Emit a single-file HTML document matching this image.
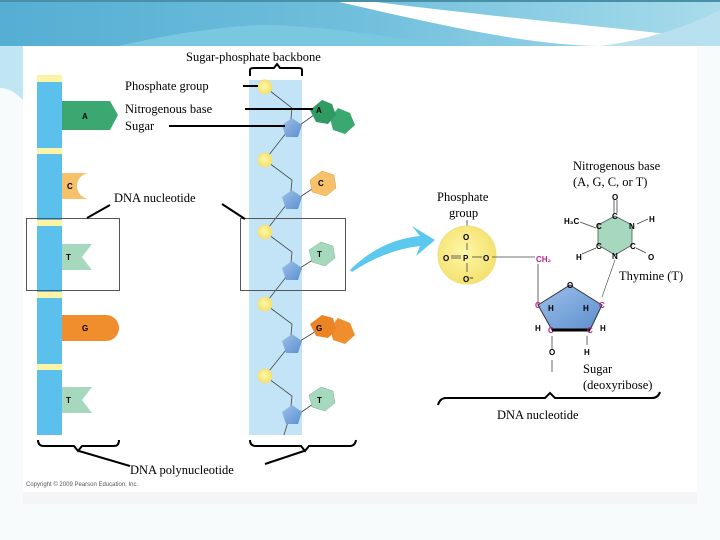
<!DOCTYPE html>
<html><head><meta charset="utf-8"><style>
html,body{margin:0;padding:0;width:720px;height:540px;overflow:hidden;background:#fff}
svg{display:block}
text{font-family:"Liberation Serif",serif;font-size:12.5px;fill:#000}
.s{font-family:"Liberation Sans",sans-serif;font-size:8px;font-weight:bold}
</style></head><body>
<svg width="720" height="540" viewBox="0 0 720 540" xmlns="http://www.w3.org/2000/svg">
<defs>
<linearGradient id="bg" x1="0" y1="0" x2="1" y2="0">
<stop offset="0" stop-color="#55aed3"/><stop offset="0.5" stop-color="#70bfdc"/><stop offset="1" stop-color="#a8dceb"/>
</linearGradient>
<radialGradient id="ph" cx="0.45" cy="0.45" r="0.6"><stop offset="0" stop-color="#fff7a8"/><stop offset="1" stop-color="#f3e06a"/></radialGradient>
<linearGradient id="sg" x1="0" y1="0" x2="1" y2="1"><stop offset="0" stop-color="#9fc0ea"/><stop offset="1" stop-color="#5b8fcf"/></linearGradient>
</defs>
<rect width="720" height="540" fill="#f8fbfc"/>
<rect x="0" y="0" width="720" height="46" fill="url(#bg)"/>
<path d="M0 80 C60 60 160 30 260 25 C330 25 400 40 460 46 L0 46 Z" fill="#7ac8e0"/>
<path d="M330 0 C420 20 520 45 600 46 L720 46 L720 40 C640 30 520 20 360 0 Z" fill="#ffffff"/>
<path d="M0 46 H23 V100 C15 92 8 88 0 88 Z" fill="#bfe6f2"/>
<path d="M600 46 C650 40 690 25 720 10 V46 Z" fill="#b8e0ee"/>
<rect x="0" y="0" width="720" height="2" fill="#4a8fa8"/>
<rect x="23" y="46" width="674" height="446" fill="#fff"/>

<rect x="37" y="75" width="25" height="360" fill="#5bc0ec"/>
<g fill="#fbf3a6">
<rect x="37" y="75" width="25" height="7"/><rect x="37" y="148" width="25" height="6"/>
<rect x="37" y="220" width="25" height="6"/><rect x="37" y="292" width="25" height="6"/>
<rect x="37" y="364" width="25" height="6"/>
</g>
<polygon points="62,101 110,101 118,115 110,130 62,130" fill="#3aa870"/>
<path d="M62 173 H90 A13 13 0 0 0 90 199 H62 Z" fill="#f7c16c"/>
<polygon points="62,244 92,244 82,257 92,270 62,270" fill="#a6d8bd"/>
<path d="M62 315 H106 A13 13 0 0 1 106 341 H62 Z" fill="#f08d2c"/>
<polygon points="62,387 92,387 82,400 92,413 62,413" fill="#a6d8bd"/>
<text class="s" x="82" y="119">A</text><text class="s" x="67" y="189">C</text>
<text class="s" x="66" y="260">T</text><text class="s" x="82" y="331">G</text>
<text class="s" x="66" y="403">T</text>

<rect x="249" y="80" width="53" height="355" fill="#c2e4f6"/>
<g stroke="#444" stroke-width="0.8" fill="none">
<polyline points="265,87 292,108 290,128 265,160 292,180 290,200 265,232 292,252 290,272 265,304 292,324 290,345 265,376 292,396 290,415 284,435"/>
<line x1="300" y1="125" x2="318" y2="112"/><line x1="300" y1="197" x2="318" y2="185"/>
<line x1="300" y1="268" x2="316" y2="258"/><line x1="300" y1="341" x2="318" y2="330"/>
<line x1="300" y1="413" x2="316" y2="402"/>
</g>
<g fill="url(#ph)" stroke="#f0e080">
<circle cx="265" cy="87" r="7"/><circle cx="265" cy="160" r="7"/><circle cx="265" cy="232" r="7"/>
<circle cx="265" cy="304" r="7"/><circle cx="265" cy="376" r="7"/>
</g>
<g fill="url(#sg)">
<polygon points="292,118 302,125 298,137 286,137 282,125"/>
<polygon points="292,190 302,197 298,209 286,209 282,197"/>
<polygon points="292,261 302,268 298,280 286,280 282,268"/>
<polygon points="292,334 302,341 298,353 286,353 282,341"/>
<polygon points="292,405 302,412 298,424 286,424 282,412"/>
</g>
<polygon points="338,108 350,113 355,125 345,134 333,130 330,118" fill="#3aa870"/>
<polygon points="322,100 332,104 336,115 328,124 316,122 310,110" fill="#2f9a62"/>
<polygon points="322,171 334,175 336,188 326,196 312,192 310,180" fill="#f7c16c" stroke="#e0a040" stroke-width="0.5"/>
<polygon points="321,242 333,246 335,258 325,266 312,262 309,250" fill="#a6d8bd" stroke="#80b898" stroke-width="0.5"/>
<polygon points="338,318 350,323 355,335 345,344 333,340 330,328" fill="#f08d2c"/>
<polygon points="322,315 333,318 336,330 328,338 316,336 310,324" fill="#ec8424"/>
<polygon points="321,387 333,391 335,403 325,411 312,407 309,395" fill="#a6d8bd" stroke="#80b898" stroke-width="0.5"/>
<text class="s" x="316" y="113">A</text><text class="s" x="318" y="186">C</text>
<text class="s" x="317" y="257">T</text><text class="s" x="316" y="331">G</text>
<text class="s" x="317" y="403">T</text>

<g fill="none" stroke="#555" stroke-width="1">
<rect x="26.5" y="218.5" width="93" height="72"/>
<rect x="240.5" y="218.5" width="105" height="72"/>
</g>

<text x="186" y="61">Sugar-phosphate backbone</text>
<path d="M250 76 V70 Q250 68 254 68 H274 L277 64 L280 68 H299 Q302 68 302 70 V76" stroke="#000" stroke-width="2" fill="none"/>
<text x="125" y="90">Phosphate group</text>
<text x="125" y="113">Nitrogenous base</text>
<text x="125" y="130">Sugar</text>
<g stroke="#000" stroke-width="2">
<line x1="243" y1="86" x2="258" y2="86"/>
<line x1="245" y1="109" x2="313" y2="109"/>
<line x1="169" y1="126" x2="285" y2="126"/>
<line x1="87" y1="218" x2="110" y2="205"/>
<line x1="222" y1="204" x2="245" y2="219"/>
</g>
<text x="114" y="202">DNA nucleotide</text>

<path d="M350 270 Q380 240 420 236 L412 226 L435 240 L416 256 L420 246 Q385 250 352 272 Z" fill="#5bc8ee"/>

<text x="437" y="201">Phosphate</text>
<text x="449" y="217">group</text>
<line x1="467" y1="220" x2="467" y2="228" stroke="#666"/>
<circle cx="467" cy="255" r="29" fill="url(#ph)" stroke="#f0e080"/>
<text class="s" x="463" y="240">O</text>
<text class="s" x="443" y="261">O</text><text class="s" x="463" y="261">P</text><text class="s" x="483" y="261">O</text>
<text class="s" x="463" y="282">O⁻</text>
<g stroke="#444" stroke-width="0.8">
<line x1="451" y1="256" x2="461" y2="256"/><line x1="451" y1="258" x2="461" y2="258"/>
<line x1="472" y1="257" x2="482" y2="257"/><line x1="467" y1="243" x2="467" y2="250"/>
<line x1="467" y1="263" x2="467" y2="272"/>
<line x1="492" y1="257" x2="535" y2="257"/><line x1="538" y1="264" x2="538" y2="305"/>
<line x1="615" y1="260" x2="602" y2="297" stroke-width="0.6"/>
<line x1="552" y1="336" x2="552" y2="350"/><line x1="552" y1="360" x2="552" y2="372"/>
<line x1="587" y1="336" x2="587" y2="345"/>
</g>
<text class="s" x="536" y="262" style="fill:#c0208a">CH₂</text>
<polygon points="570,285 602,305 590,330 552,330 538,305" fill="url(#sg)" stroke="#333" stroke-width="1"/>
<line x1="552" y1="330" x2="590" y2="330" stroke="#000" stroke-width="3"/>
<text class="s" x="535" y="308" style="fill:#c0208a">C</text><text class="s" x="599" y="308" style="fill:#c0208a">C</text>
<text class="s" x="548" y="333" style="fill:#c0208a">C</text><text class="s" x="587" y="333" style="fill:#c0208a">C</text>
<text class="s" x="567" y="288">O</text>
<text class="s" x="548" y="311">H</text><text class="s" x="583" y="311">H</text>
<text class="s" x="535" y="331">H</text><text class="s" x="600" y="331">H</text>
<text class="s" x="549" y="355">O</text><text class="s" x="584" y="355">H</text>
<polygon points="615,216 632,225 632,245 615,255 598,245 598,225" fill="#a6d8bd" stroke="#555" stroke-width="0.8"/>
<g stroke="#444" stroke-width="0.8">
<line x1="614" y1="200" x2="614" y2="213"/><line x1="617" y1="200" x2="617" y2="213"/>
<line x1="580" y1="222" x2="596" y2="228"/><line x1="582" y1="254" x2="596" y2="248"/>
<line x1="637" y1="224" x2="648" y2="219"/><line x1="636" y1="248" x2="646" y2="253"/>
</g>
<text class="s" x="612" y="200">O</text><text class="s" x="612" y="219">C</text>
<text class="s" x="629" y="229">N</text><text class="s" x="649" y="222">H</text>
<text class="s" x="630" y="249">C</text><text class="s" x="648" y="260">O</text>
<text class="s" x="612" y="259">N</text><text class="s" x="596" y="229">C</text>
<text class="s" x="596" y="249">C</text><text class="s" x="564" y="224">H₃C</text>
<text class="s" x="576" y="260">H</text>
<text x="573" y="170">Nitrogenous base</text>
<text x="573" y="186">(A, G, C, or T)</text>
<text x="619" y="280">Thymine (T)</text>
<text x="583" y="373">Sugar</text>
<text x="583" y="389">(deoxyribose)</text>
<path d="M438 405 Q440 398 446 398 H545 L550 393 L555 398 H652 Q658 398 660 392" stroke="#000" stroke-width="2" fill="none"/>
<text x="497" y="419">DNA nucleotide</text>

<g stroke="#000" stroke-width="2" fill="none">
<path d="M38 440 Q38 446 44 446 H74 L78 451 L82 446 H114 Q119 446 119 440"/>
<path d="M250 440 Q250 446 256 446 H301 L305 451 L309 446 H350 Q355 446 356 440"/>
<line x1="79" y1="451" x2="130" y2="466"/>
<line x1="304" y1="451" x2="265" y2="464"/>
</g>
<text x="130" y="474">DNA polynucleotide</text>
<text x="26" y="486" style="font-family:'Liberation Sans',sans-serif;font-size:6px;fill:#555">Copyright © 2009 Pearson Education, Inc.</text>
<rect x="23" y="492" width="674" height="12" fill="#f3f5f6"/>
</svg>
</body></html>
